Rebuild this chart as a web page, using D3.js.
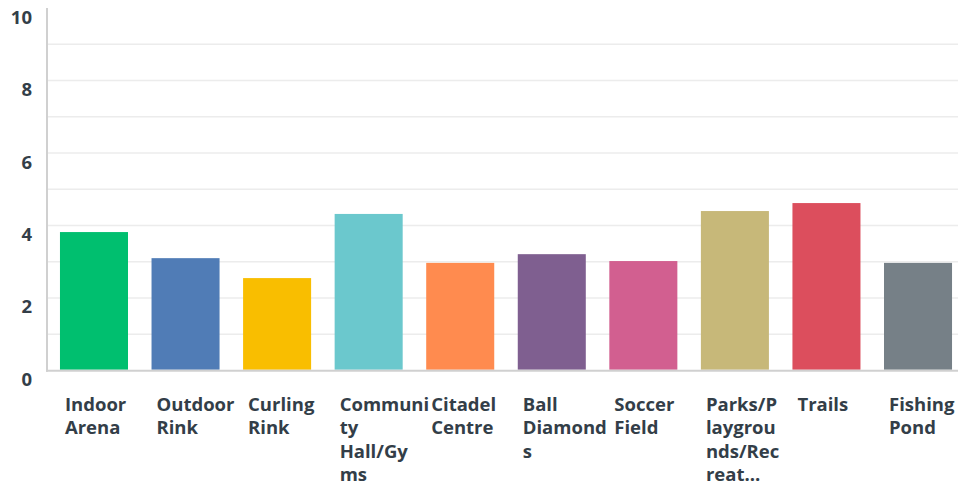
<!DOCTYPE html>
<html>
<head>
<meta charset="utf-8">
<script src="https://cdn.jsdelivr.net/npm/d3@7"></script>
<style>
body{margin:0;background:#fff;}
text{font-family:"Open Sans",sans-serif;font-weight:700;fill:#333e48;}
</style>
</head>
<body>
<script>
var w=958;
var h=489;

var categories=["Indoor Arena","Outdoor Rink","Curling Rink","Community Hall/Gyms","Citadel Centre","Ball Diamonds","Soccer Field","Parks/Playgrounds/Recreation Areas","Trails","Fishing Pond"];
// label lines as they wrap in the picture
var tickLabels=[["Indoor","Arena"],["Outdoor","Rink"],["Curling","Rink"],["Communi","ty","Hall/Gy","ms"],["Citadel","Centre"],["Ball","Diamond","s"],["Soccer","Field"],["Parks/P","laygrou","nds/Rec","reat..."],["Trails"],["Fishing","Pond"]];
var values=[3.82,3.10,2.55,4.32,2.97,3.21,3.02,4.40,4.62,2.97];
var colors=["#00bf6f","#507cb6","#f9be00","#6bc8cd","#ff8b4f","#7f5f90","#d25f90","#c7b879","#dc4e5d","#768087"];
var yTicks=[0,2,4,6,8,10];
var gridTicks=[1,2,3,4,5,6,7,8,9];

var svg=d3.select("body").append("svg")
	.attr("width",w)
	.attr("height",h);

var x=d3.scaleBand()
	.domain(categories)
	.range([48.2,963.8])
	.paddingInner(0.257)
	.paddingOuter(0.1285);

var y=d3.scaleLinear()
	.domain([0,10])
	.range([370.5,8.1]);

// gridlines
svg.append("g").selectAll("line")
	.data(gridTicks)
	.enter().append("line")
	.attr("x1",48).attr("x2",w)
	.attr("y1",function(d){return y(d);})
	.attr("y2",function(d){return y(d);})
	.attr("stroke","#ececec")
	.attr("stroke-width",1.5);

// bars
svg.append("g").selectAll("rect")
	.data(values)
	.enter().append("rect")
	.attr("x",function(d,i){return x(categories[i]);})
	.attr("width",x.bandwidth())
	.attr("y",function(d){return y(d);})
	.attr("height",function(d){return y(0)-y(d)-0.8;})
	.attr("fill",function(d,i){return colors[i];});

// axis lines
svg.append("line")
	.attr("x1",47).attr("x2",47)
	.attr("y1",y(10)).attr("y2",y(0)+1.2)
	.attr("stroke","#d0d0d0").attr("stroke-width",2);
svg.append("line")
	.attr("x1",46).attr("x2",w)
	.attr("y1",y(0)+0.3).attr("y2",y(0)+0.3)
	.attr("stroke","#d0d0d0").attr("stroke-width",2);

// y tick labels, sitting a little under their lines
svg.append("g").selectAll("text")
	.data(yTicks)
	.enter().append("text")
	.attr("x",32)
	.attr("y",function(d){return y(d)+9;})
	.attr("dy","0.35em")
	.attr("text-anchor","end")
	.attr("font-size",18.5)
	.text(function(d){return d;});

// x labels
var lab=svg.append("g").selectAll("text")
	.data(categories)
	.enter().append("text")
	.attr("x",function(d){return x(d)+5;})
	.attr("y",411)
	.attr("font-size",18.5);

lab.selectAll("tspan")
	.data(function(d,i){return tickLabels[i];})
	.enter().append("tspan")
	.attr("x",function(){return x(d3.select(this.parentNode).datum())+5;})
	.attr("dy",function(d,i){return i==0?0:23.4;})
	.text(function(d){return d;});
</script>
</body>
</html>
